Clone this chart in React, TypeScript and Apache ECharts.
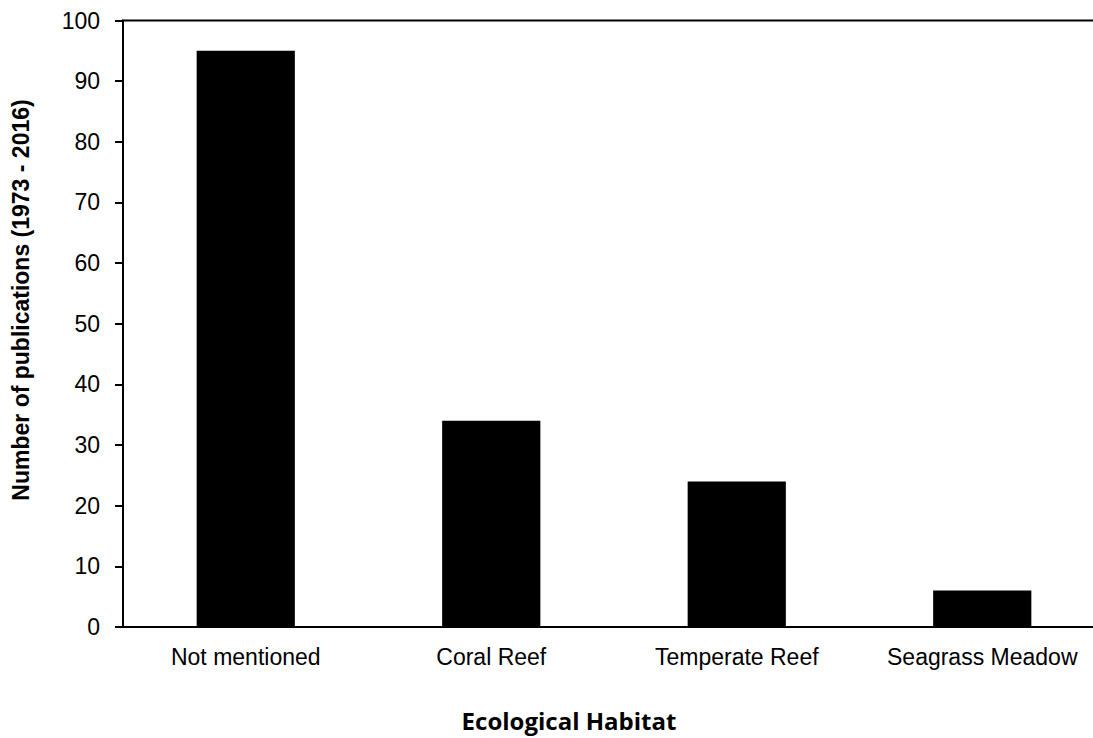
import React, { useEffect, useRef } from "react";
import * as echarts from "echarts";

const categories = ["Not mentioned", "Coral Reef", "Temperate Reef", "Seagrass Meadow"];
const values = [95, 34, 24, 6];
const yTicks = [0, 10, 20, 30, 40, 50, 60, 70, 80, 90, 100];

export default function App() {
  const ref = useRef<HTMLDivElement>(null);
  useEffect(() => {
    const chart = echarts.init(ref.current!, null, { renderer: "svg" });
    chart.setOption({
      animation: false,
      backgroundColor: "#fff",
      grid: {
        left: 123,
        top: 20.5,
        width: 982,
        height: 606.5,
        show: true,
        borderColor: "#000",
        borderWidth: 2,
        backgroundColor: "transparent",
        outerBoundsMode: "none",
        containLabel: false,
      },
      xAxis: {
        type: "category",
        data: categories,
        axisLine: { lineStyle: { color: "#000", width: 2 } },
        axisTick: { show: false },
        axisLabel: {
          interval: 0,
          hideOverlap: false,
          color: "#000",
          fontFamily: "Liberation Sans, Arial",
          fontSize: 23,
          margin: 18,
        },
      },
      yAxis: {
        type: "value",
        min: yTicks[0],
        max: yTicks[yTicks.length - 1],
        interval: 10,
        splitLine: { show: false },
        axisLine: { show: true, lineStyle: { color: "#000", width: 2 } },
        axisTick: { show: true, length: 8, lineStyle: { color: "#000", width: 2 } },
        axisLabel: {
          color: "#000",
          fontFamily: "Liberation Sans, Arial",
          fontSize: 23,
          margin: 23,
        },
      },
      series: [
        {
          type: "bar",
          data: values,
          barWidth: "40%",
          itemStyle: { color: "#000" },
        },
      ],
      graphic: [
        {
          type: "text",
          x: 21,
          y: 300,
          rotation: Math.PI / 2,
          style: {
            text: "Number of publications (1973 - 2016)",
            font: "bold 23px 'Liberation Sans', Arial",
            fill: "#000",
            align: "center",
            verticalAlign: "middle",
          },
        },
        {
          type: "text",
          x: 569,
          y: 720,
          style: {
            text: "Ecological Habitat",
            font: "bold 24px 'Open Sans'",
            fill: "#000",
            align: "center",
            verticalAlign: "middle",
          },
        },
      ],
    });
    return () => chart.dispose();
  }, []);
  return (
    <div
      ref={ref}
      style={{ position: "absolute", left: 0, top: 0, width: 1093, height: 738 }}
    />
  );
}
